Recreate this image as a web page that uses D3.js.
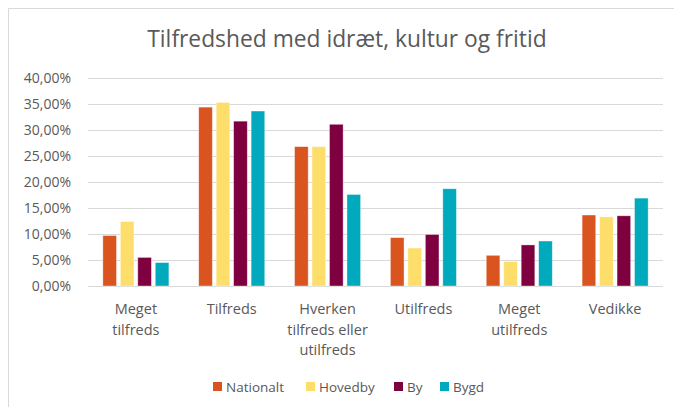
<!DOCTYPE html>
<html>
<head>
<meta charset="utf-8">
<title>Tilfredshed med idræt, kultur og fritid</title>
<style>
body { margin: 0; background: #fff; }
text { font-family: "Open Sans", sans-serif; fill: #595959; }
.grid line { stroke: #d9d9d9; stroke-width: 1px; }
.frame { fill: none; stroke: #d9d9d9; stroke-width: 1px; }
</style>
</head>
<body>
<script src="https://cdn.jsdelivr.net/npm/d3@7"></script>
<script>

var width = 674, height = 407;

// data
var categories = ["Meget tilfreds", "Tilfreds", "Hverken tilfreds eller utilfreds",
                  "Utilfreds", "Meget utilfreds", "Vedikke"];
var categoryLines = [["Meget", "tilfreds"], ["Tilfreds"], ["Hverken", "tilfreds eller", "utilfreds"],
                     ["Utilfreds"], ["Meget", "utilfreds"], ["Vedikke"]];
var seriesNames = ["Nationalt", "Hovedby", "By", "Bygd"];
var nationalt = [0.097, 0.344, 0.268, 0.093, 0.059, 0.1365];
var hovedby   = [0.124, 0.353, 0.268, 0.073, 0.047, 0.133];
var by        = [0.055, 0.317, 0.311, 0.099, 0.079, 0.135];
var bygd      = [0.045, 0.3365, 0.176, 0.187, 0.0865, 0.169];
var yTicks = [0, 0.05, 0.10, 0.15, 0.20, 0.25, 0.30, 0.35, 0.40];
var colors = ["#d9541e", "#fede6b", "#7e003f", "#00a9bc"];

var allSeries = [nationalt, hovedby, by, bygd];

var svg = d3.select("body").append("svg")
    .attr("width", width)
    .attr("height", height);

svg.append("rect").attr("width", width).attr("height", height).attr("fill", "#fff");

// chart frame (runs off right and bottom edge)
svg.append("path")
    .attr("class", "frame")
    .attr("d", "M8.5," + (height + 2) + "V8.5H" + (width + 2));

var margin = {left: 88, right: 11, top: 78, bottom: 121};

var x0 = d3.scaleBand()
    .domain(categories)
    .range([margin.left, width - margin.right])
    .paddingInner(0.311)
    .paddingOuter(0.155);

var x1 = d3.scaleBand()
    .domain(seriesNames)
    .range([0, x0.bandwidth()])
    .paddingInner(0.22);

var y = d3.scaleLinear()
    .domain([0, 0.4])
    .range([height - margin.bottom, margin.top]);

var locale = d3.formatLocale({decimal: ",", thousands: ".", grouping: [3], currency: ["", " kr."]});
var pct = locale.format(".2%");

// title
svg.append("text")
    .attr("x", 347)
    .attr("y", 47)
    .attr("text-anchor", "middle")
    .style("font-size", "22.8px")
    .text("Tilfredshed med idræt, kultur og fritid");

// gridlines + tick labels
var yAxis = d3.axisLeft(y)
    .tickValues(yTicks)
    .tickSize(-(width - margin.right - margin.left))
    .tickFormat(pct);

var g = svg.append("g")
    .attr("class", "grid")
    .attr("transform", "translate(" + margin.left + ",0)")
    .call(yAxis);
g.select(".domain").remove();
g.selectAll(".tick text")
    .attr("x", -17)
    .style("font-size", "14px")
    .style("font-family", "'Open Sans', sans-serif")
    .attr("fill", "#595959");

// bars
var groups = svg.append("g").selectAll("g")
    .data(categories)
    .enter().append("g")
    .attr("transform", function(d) { return "translate(" + x0(d) + ",0)"; });

groups.selectAll("rect")
    .data(function(d, i) {
        return seriesNames.map(function(s, j) { return {series: s, value: allSeries[j][i], k: j}; });
    })
    .enter().append("rect")
    .attr("x", function(d) { return x1(d.series); })
    .attr("y", function(d) { return y(d.value); })
    .attr("width", x1.bandwidth())
    .attr("height", function(d) { return y(0) - y(d.value); })
    .attr("fill", function(d) { return colors[d.k]; })
    .attr("stroke", "#fff")
    .attr("stroke-opacity", 0.5)
    .attr("stroke-width", 0.75);

// category labels
svg.append("g").selectAll("text")
    .data(categories)
    .enter().append("text")
    .attr("text-anchor", "middle")
    .attr("x", function(d) { return x0(d) + x0.bandwidth() / 2; })
    .attr("y", 314)
    .style("font-size", "14.5px")
    .each(function(d, i) {
        var t = d3.select(this);
        categoryLines[i].forEach(function(line, k) {
            t.append("tspan")
                .attr("x", x0(d) + x0.bandwidth() / 2)
                .attr("dy", k === 0 ? 0 : 20.5)
                .text(line);
        });
    });

// legend
var legendX = [213, 306, 394, 440];
var legend = svg.append("g").selectAll("g")
    .data(seriesNames)
    .enter().append("g")
    .attr("transform", function(d, i) { return "translate(" + legendX[i] + ",382)"; });

legend.append("rect")
    .attr("width", 9)
    .attr("height", 9)
    .attr("fill", function(d, i) { return colors[i]; });

legend.append("text")
    .attr("x", 13)
    .attr("y", 9.5)
    .style("font-size", "13.5px")
    .text(function(d) { return d; });

</script>
</body>
</html>
